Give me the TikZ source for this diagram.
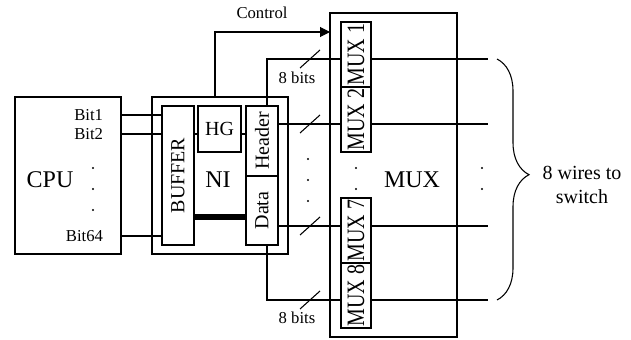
\documentclass[tikz,border=0pt]{standalone}
\usepackage{fontspec}
\setmainfont{Liberation Serif}
\usetikzlibrary{arrows.meta, positioning, decorations.pathreplacing}

\newcommand{\muxname}[1]{\rotatebox{90}{\scalebox{1}[1.25]{#1}}}

\begin{document}
\begin{tikzpicture}[
  x=0.75pt, y=-0.75pt,
  line width=0.8pt,
  box/.style={draw, inner sep=0pt, outer sep=0pt, font=\fontsize{15}{15}\selectfont},
  muxbox/.style={box, minimum width=22.5pt, minimum height=48.75pt},
  bigtxt/.style={font=\fontsize{18}{18}\selectfont},
  small/.style={font=\fontsize{12.5}{12.5}\selectfont},
  bus/.style={line width=3.8pt},
  arr/.style={-{Triangle[length=7.5pt, width=7.5pt]}}
]
\useasboundingbox (0,0) rectangle (631,339);

\node[box, minimum width=79.5pt, minimum height=117.75pt] (cpu) at (68,175.5) {};
\node[bigtxt] (cputxt) at (50,180) {CPU};
\node[small, anchor=east] (bit1) at (108,115) {Bit1};
\node[small, anchor=east] (bit2) at (108,134) {Bit2};
\node[small, anchor=east] (bit64) at (108,236) {Bit64};

\node[box, minimum width=102pt, minimum height=117.75pt] (ni) at (220,175.5) {};
\node[bigtxt] (nitxt) at (218,180) {NI};
\node[box, minimum width=24pt, minimum height=104.25pt] (buf) at (178,175.5) {\rotatebox{90}{BUFFER}};
\node[box, minimum width=32.25pt, minimum height=34.5pt] (hg) at (219.5,129) {HG};
\node[box, minimum width=24pt, minimum height=52.5pt] (header) at (262,141) {\rotatebox{90}{Header}};
\node[box, minimum width=24pt, minimum height=51.75pt, below=0pt of header] (data) {\rotatebox{90}{Data}};

\node[box, minimum width=95.25pt, minimum height=243pt] (mux) at (393.5,175) {};
\node[bigtxt] (muxtxt) at (412,180) {MUX};
\node[muxbox] (mux1) at (356,54.5) {\muxname{MUX 1}};
\node[muxbox, below=0pt of mux1] (mux2) {\muxname{MUX 2}};
\node[muxbox] (mux7) at (356,230.5) {\muxname{MUX 7}};
\node[muxbox, below=0pt of mux7] (mux8) {\muxname{MUX 8}};

\coordinate (hgl) at (0,134);
\coordinate (busy) at (0,217);
\coordinate (tap) at (267,0);
\coordinate (ctl) at (215,32);
\coordinate (w1) at (488,59);
\coordinate (w2) at (488,124);
\coordinate (w3) at (488,226);
\coordinate (w4) at (488,300);
\coordinate (btop) at (497,59);
\coordinate (bbot) at (497,300);

\foreach \b in {bit1,bit2,bit64}
  \draw (\b -| cpu.east) -- (\b -| buf.west);
\draw (buf.east |- hgl) -- (hg.west |- hgl);
\draw (hg.east |- hgl) -- (header.west |- hgl);
\draw[bus] (buf.east |- busy) -- (data.west |- busy);

\draw[arr] (ni.north -| ctl) |- (mux.west |- ctl);
\node[small] (ctltxt) at (262,13) {Control};

\draw (header.north -| tap) |- (mux1.west |- w1);
\draw (header.east |- w2) -- (mux2.west |- w2);
\draw (data.east |- w3) -- (mux7.west |- w3);
\draw (data.south -| tap) |- (mux8.west |- w4);
\draw (mux1.east |- w1) -- (w1);
\draw (mux2.east |- w2) -- (w2);
\draw (mux7.east |- w3) -- (w3);
\draw (mux8.east |- w4) -- (w4);

\foreach \y in {59,124,226,300}
  \draw (300,\y+9) -- (320,\y-9);
\node[small] (bitsa) at (297,78) {8 bits};
\node[small] (bitsb) at (297,318) {8 bits};

\foreach \y in {168,189,210}
  \fill (93,\y) circle (0.8pt);
\foreach \y in {159,180,201}
  \fill (308,\y) circle (0.8pt);
\foreach \y in {168,189} {
  \fill (356,\y) circle (0.8pt);
  \fill (482,\y) circle (0.8pt);
}

\draw[decorate, decoration={brace, amplitude=24pt, aspect=0.48}] (btop) -- (bbot);
\node[font=\fontsize{15}{18}\selectfont, align=center] (sw) at (582,185) {8 wires to\\switch};

\end{tikzpicture}
\end{document}
